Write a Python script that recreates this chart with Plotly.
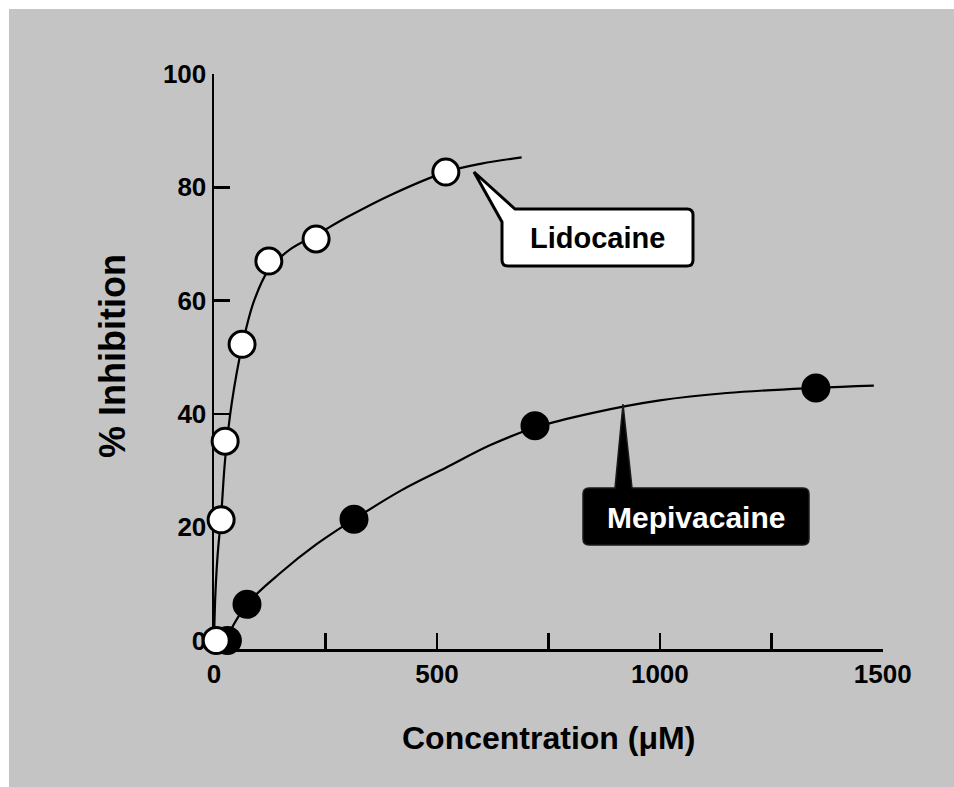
import plotly.graph_objects as go

# ---------------- data ----------------
lido_conc = [5, 16, 25, 63, 123, 229, 520]
lido_inhib = [0, 21.3, 35.2, 52.3, 67.0, 70.9, 82.7]

mepi_conc = [30, 74, 314, 720, 1350]
mepi_inhib = [0, 6.4, 21.4, 37.9, 44.6]

lido_curve_x = [0, 3, 8, 16, 25, 40, 63, 90, 123, 170, 229, 300, 400, 520, 600, 690]
lido_curve_y = [0, 8, 15, 22, 32, 42, 52, 60, 65.5, 69, 71.6, 74.8, 78.8, 82.7, 84.2, 85.3]

mepi_curve_x = [25, 74, 150, 230, 314, 420, 520, 620, 720, 850, 1000, 1150, 1350, 1480]
mepi_curve_y = [0, 6.4, 12, 17, 21.4, 26.5, 30.5, 34.5, 37.6, 40.2, 42.4, 43.7, 44.6, 45]

x_tickvals = [0, 250, 500, 750, 1000, 1250, 1500]
x_ticktext = ["0", "", "500", "", "1000", "", "1500"]
y_tickvals = [0, 20, 40, 60, 80, 100]
y_ticktext = ["0", "20", "40", "60", "80", "100"]

x_title = "Concentration (μM)"
y_title = "% Inhibition"
label_lido = "Lidocaine"
label_mepi = "Mepivacaine"

# ---------------- layout geometry ----------------
W, H = 954, 787
L, R, T, B = 214, 71, 74, 138
XMIN, XMAX = 0, 1500.5
YMIN, YMAX = -1.5, 100.02
PW, PH = W - L - R, H - T - B
FONT = "Liberation Sans, Arial, Helvetica, sans-serif"
GRAY = "#c4c4c4"


def dx(px):
    return XMIN + (px - L) / PW * (XMAX - XMIN)


def dy(py):
    return YMIN + (H - B - py) / PH * (YMAX - YMIN)


def path(points_cmds):
    out = []
    for cmd, pts in points_cmds:
        s = cmd
        for (px, py) in pts:
            s += f" {dx(px):.4f},{dy(py):.4f}"
        out.append(s)
    return " ".join(out) + " Z"


fig = go.Figure()

fig.add_trace(go.Scatter(x=mepi_curve_x, y=mepi_curve_y, mode="lines",
                         line=dict(color="black", width=2.2, shape="spline"),
                         hoverinfo="skip", showlegend=False))
fig.add_trace(go.Scatter(x=lido_curve_x, y=lido_curve_y, mode="lines",
                         line=dict(color="black", width=2.2, shape="spline"),
                         hoverinfo="skip", showlegend=False))
fig.add_trace(go.Scatter(x=mepi_conc, y=mepi_inhib, mode="markers", name=label_mepi,
                         marker=dict(size=26, color="black",
                                     line=dict(color="black", width=3)),
                         showlegend=False, cliponaxis=False))
fig.add_trace(go.Scatter(x=lido_conc, y=lido_inhib, mode="markers", name=label_lido,
                         marker=dict(size=26, color="white",
                                     line=dict(color="black", width=3)),
                         showlegend=False, cliponaxis=False))

shapes = [
    dict(type="rect", xref="paper", yref="paper",
         x0=(9 - L) / PW, x1=(W + 5 - L) / PW,
         y0=(H - B - (H + 5)) / PH, y1=(H - B - 9) / PH,
         fillcolor=GRAY, line=dict(width=0), layer="below"),
]

# Lidocaine callout (white box with wedge pointer)
lido_path = path([
    ("M", [(515, 209)]), ("L", [(687, 209)]), ("Q", [(693, 209), (693, 215)]),
    ("L", [(693, 260)]), ("Q", [(693, 266), (687, 266)]),
    ("L", [(508, 266)]), ("Q", [(502, 266), (502, 260)]),
    ("L", [(502, 222)]), ("L", [(474, 172)]),
])
shapes.append(dict(type="path", xref="x", yref="y", path=lido_path,
                   fillcolor="white", line=dict(color="black", width=3), layer="above"))

# Mepivacaine callout (black box with wedge pointer)
mepi_path = path([
    ("M", [(589, 488)]), ("L", [(615, 488)]), ("L", [(623, 404)]), ("L", [(632, 488)]),
    ("L", [(803, 488)]), ("Q", [(809, 488), (809, 494)]),
    ("L", [(809, 539)]), ("Q", [(809, 545), (803, 545)]),
    ("L", [(589, 545)]), ("Q", [(583, 545), (583, 539)]),
    ("L", [(583, 494)]), ("Q", [(583, 488), (589, 488)]),
])
shapes.append(dict(type="path", xref="x", yref="y", path=mepi_path,
                   fillcolor="black", line=dict(color="#1a1a1a", width=1.5), layer="above"))

annotations = [
    dict(x=dx(597), y=dy(238), xref="x", yref="y", text=f"<b>{label_lido}</b>",
         xanchor="center", yanchor="middle",
         showarrow=False, font=dict(family=FONT, size=29, color="black")),
    dict(x=dx(696), y=dy(517), xref="x", yref="y", text=f"<b>{label_mepi}</b>",
         xanchor="center", yanchor="middle",
         showarrow=False, font=dict(family=FONT, size=30, color="white")),
    dict(x=(548 - L) / PW, y=(H - B - 738) / PH, xref="paper", yref="paper",
         xanchor="center", yanchor="middle",
         text=f"<b>{x_title}</b>", showarrow=False,
         font=dict(family=FONT, size=32, color="black")),
    dict(x=(112 - L) / PW, y=(H - B - 356) / PH, xref="paper", yref="paper",
         xanchor="center", yanchor="middle",
         text=f"<b>{y_title}</b>", showarrow=False, textangle=-90,
         font=dict(family=FONT, size=36, color="black")),
]

fig.update_layout(
    width=W, height=H,
    margin=dict(l=L, r=R, t=T, b=B, pad=0),
    paper_bgcolor="white", plot_bgcolor=GRAY,
    shapes=shapes, annotations=annotations,
    showlegend=False,
    font=dict(family=FONT, color="black"),
)
fig.update_xaxes(range=[XMIN, XMAX], tickvals=x_tickvals, ticktext=x_ticktext,
                 showgrid=False, zeroline=False, showline=True, linecolor="black",
                 linewidth=2.5, ticks="inside", ticklen=16, tickwidth=2.5,
                 tickcolor="black", ticklabelstandoff=0, layer="below traces",
                 tickfont=dict(family=FONT, size=26, color="black", weight="bold"))
fig.update_yaxes(range=[YMIN, YMAX], tickvals=y_tickvals, ticktext=y_ticktext,
                 showgrid=False, zeroline=False, showline=True, linecolor="black",
                 linewidth=2.5, ticks="inside", ticklen=16, tickwidth=2.5,
                 tickcolor="black", ticklabelstandoff=0, layer="below traces",
                 tickfont=dict(family=FONT, size=26, color="black", weight="bold"))

fig.write_html(
    "out.html",
    config={"displayModeBar": False, "staticPlot": True},
    post_script="document.body.style.margin='0';document.body.style.padding='0';",
)
